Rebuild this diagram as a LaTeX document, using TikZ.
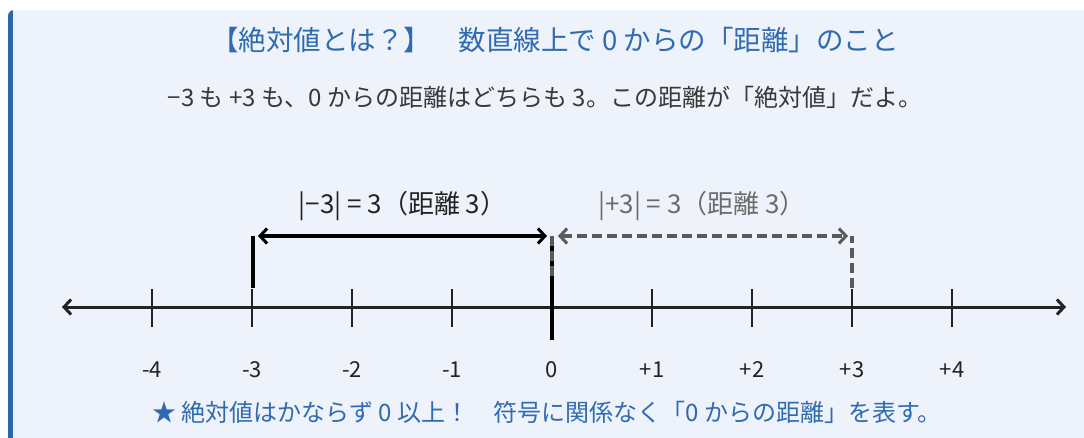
\documentclass[tikz,border=0pt]{standalone}
\usepackage{fontspec}
\setmainfont{Noto Sans CJK JP}
\usetikzlibrary{arrows.meta}
\definecolor{boxbg}{HTML}{EEF2FA}
\definecolor{barblue}{HTML}{2B67AE}
\definecolor{titleblue}{HTML}{2E6BB1}
\definecolor{inkdark}{HTML}{222222}
\definecolor{inkgray}{HTML}{5A5A5A}
\tikzset{>={Straight Barb[length=7pt,width=15pt,line width=3pt]}}
\tikzset{
	% text styles
	titletext/.style={text=titleblue,font=\fontsize{27.5}{30}\selectfont},
	subtext/.style={text=inkdark!90,font=\fontsize{24}{28}\selectfont},
	ticklabel/.style={text=inkdark,font=\fontsize{22}{24}\selectfont},
	distlabel/.style={font=\fontsize{26}{30}\selectfont},
	% line styles
	marker/.style={line width=3.2pt},
	dashmarker/.style={line width=3.2pt,inkgray,dash pattern=on 10pt off 5pt},
}
\begin{document}
\begin{tikzpicture}[x=1pt,y=-1pt]
\useasboundingbox (0,0) rectangle (1084,437);
% the panel with its blue bar
\begin{scope}
  \clip[rounded corners=6pt] (8,10) rectangle (1100,450);
  \fill[boxbg] (8,10) rectangle (1100,450);
  \fill[barblue] (8,10) rectangle (12.5,450);
\end{scope}
% the texts
\node[titletext] (title) at (555,40) {【絶対値とは？】　数直線上で 0 からの「距離」のこと};
\node[subtext] (sub) at (545,97) {−3 も +3 も、0 からの距離はどちらも 3。この距離が「絶対値」だよ。};
\node[titletext,font=\fontsize{24}{28}\selectfont] (note) at (547,412) {★ 絶対値はかならず 0 以上！　符号に関係なく「0 からの距離」を表す。};
% a straight line segment
\coordinate (left) at (62,307);
\coordinate (right) at (1066,307);
\draw[<->,line width=3pt,inkdark] (left) -- (right);
% the ticks and their labels
\foreach \x/\lab in {-4/-4,-3/-3,-2/-2,-1/-1,1/+1,2/+2,3/+3,4/+4}
  \draw[line width=2.2pt,inkdark,xshift=\x*100pt] (552,289) -- (552,327)
    node[ticklabel,pos=1,yshift=-43pt] (t\x) {\lab};
\node[ticklabel] (t0) at (552,370) {0};
\draw[line width=4.5pt,black] (552,276) -- (552,340);
% the markers at -3, 0 and +3
\coordinate (mthree) at (253,236);
\coordinate (zero) at (552,236);
\coordinate (pthree) at (852,236);
\draw[marker,black] (253,288) -- (mthree);
\draw[marker,black] (552,276) -- (zero);
\draw[dashmarker] (552,276) -- (zero);
\draw[dashmarker] (852,288) -- (pthree);
% the two distances
\draw[<->,marker,black,shorten <=5pt,shorten >=5pt] (mthree) -- (zero)
  node[distlabel,text=inkdark,midway,above=10pt] (dneg) {|−3| = 3（距離 3）};
\draw[<->,dashmarker,shorten <=6pt,shorten >=4pt] (zero) -- (pthree)
  node[distlabel,text=inkgray!90,midway,above=10pt] (dpos) {|+3| = 3（距離 3）};
\end{tikzpicture}
\end{document}
